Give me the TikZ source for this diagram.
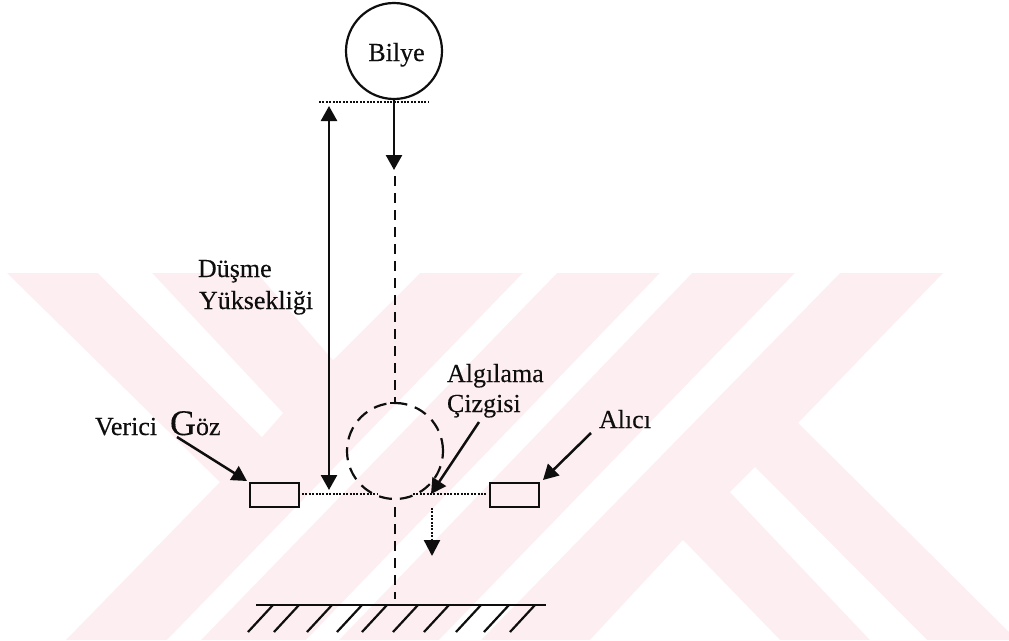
\documentclass[tikz,border=0pt]{standalone}
\usepackage{fontspec}
\setmainfont[FakeBold=0.25]{Liberation Serif}
\usetikzlibrary{arrows.meta}
\definecolor{wm}{HTML}{FDEEF1}
\definecolor{ink}{HTML}{0E0E0E}
\tikzset{
  lab/.style={anchor=base west,inner sep=0pt,outer sep=0pt,text=ink,font=\fontsize{26}{26}\selectfont},
  ball/.style={circle,draw=ink,line width=2.2pt,minimum size=96pt,inner sep=0pt,outer sep=0pt},
  ghost/.style={circle,draw=ink,line width=2.2pt,minimum size=96pt,inner sep=0pt,outer sep=0pt,dash pattern=on 13pt off 8pt},
  eye/.style={rectangle,draw=ink,line width=2pt,minimum width=49pt,minimum height=24pt,inner sep=0pt,outer sep=0pt},
  solidln/.style={draw=ink,line width=2.5pt},
  pointer/.style={solidln,-{Triangle[length=15pt,width=16pt]}},
  dashln/.style={draw=ink,line width=2.4pt,dash pattern=on 10pt off 7pt},
  dotln/.style={draw=ink,line width=2.3pt,dash pattern=on 2pt off 1.4pt},
  hatch/.style={draw=ink,line width=2.2pt}
}
\begin{document}
\begin{tikzpicture}[x=1pt,y=-1pt]
\useasboundingbox (0,0) rectangle (1009,640);
% watermark
\fill[white] (0,0) rectangle (1009,640);
\fill[wm] (7,273) -- (943,273) -- (798,423) -- (1009,632) -- (1009,640) -- (66,640) -- (220,482) -- cycle;
\fill[white] (98,273) -- (152,273) -- (283,413) -- (262,437) -- cycle;
\fill[white] (257,273) -- (420,273) -- (333,360) -- cycle;
\fill[white] (523,273) -- (557,273) -- (201,640) -- (167,640) -- cycle;
\fill[white] (660,273) -- (692,273) -- (339,640) -- (306,640) -- cycle;
\fill[white] (795,273) -- (840,273) -- (481,640) -- (439,640) -- cycle;
\fill[white] (683,540) -- (590,640) -- (780,640) -- cycle;
\fill[white] (730,492) -- (755,467) -- (927,640) -- (870,640) -- cycle;
% nodes
\node[ball] (bilye) at (394,51) {};
\node[lab,anchor=base] (bilyet) at (396.5,61) {Bilye};
\node[ghost] (ghostball) at (395,451) {};
\node[eye] (tx) at (274.5,495) {};
\node[eye] (rx) at (514.5,494.5) {};
\node[lab] (dusme) at (198,277) {Düşme};
\node[lab] (yuk) at (199,309) {Yüksekliği};
\node[lab] (verici) at (95,435) {\makebox[75pt][l]{Verici}{\fontsize{36}{36}\selectfont G}öz};
\node[lab] (alg) at (447,382) {Algılama};
\node[lab] (ciz) at (447,412) {Çizgisi};
\node[lab] (alici) at (599,428) {Alıcı};
% free ends
\coordinate (topL) at (319,102);
\coordinate (topR) at (429,102);
\coordinate (dropA) at (394,99);
\coordinate (dropB) at (394,170);
\coordinate (dashA) at (395,176);
\coordinate (dashB) at (395,403);
\coordinate (tickL) at (390,403);
\coordinate (tickR) at (401,403);
\coordinate (hTop) at (329,106);
\coordinate (hBot) at (329,490);
\coordinate (beamA) at (302,494);
\coordinate (beamB) at (377,494);
\coordinate (beamC) at (413,494);
\coordinate (beamD) at (487,494);
\coordinate (fallA) at (432,508);
\coordinate (fallB) at (432,556);
\coordinate (dash2A) at (395,507);
\coordinate (dash2B) at (395,599);
\coordinate (gL) at (256,605);
\coordinate (gR) at (546,605);
\coordinate (pv) at (177,437);
\coordinate (pvt) at (247,481);
\coordinate (pa) at (479,422);
\coordinate (pat) at (431,494);
\coordinate (pr) at (591,433);
\coordinate (prt) at (543,480);
% connectors
\draw[dotln] (topL) -- (topR);
\draw[pointer] (dropA) -- (dropB);
\draw[dashln] (dashA) -- (dashB);
\draw[draw=ink,line width=1.2pt] (tickL) -- (tickR);
\draw[solidln,{Triangle[length=15pt,width=16pt]}-{Triangle[length=15pt,width=16pt]}] (hTop) -- (hBot);
\draw[dotln] (beamA) -- (beamB);
\draw[dotln] (beamC) -- (beamD);
\draw[dotln,-{Triangle[length=16pt,width=16pt]}] (fallA) -- (fallB);
\draw[dashln] (dash2A) -- (dash2B);
\draw[solidln] (gL) -- (gR);
\foreach \t in {273,299,332,362,387,418,449,481,509,535}{
  \draw[hatch] (\t,605) -- ++(-25,27);
}
\draw[pointer] (pv) -- (pvt);
\draw[pointer] (pa) -- (pat);
\draw[pointer] (pr) -- (prt);
\end{tikzpicture}
\end{document}
